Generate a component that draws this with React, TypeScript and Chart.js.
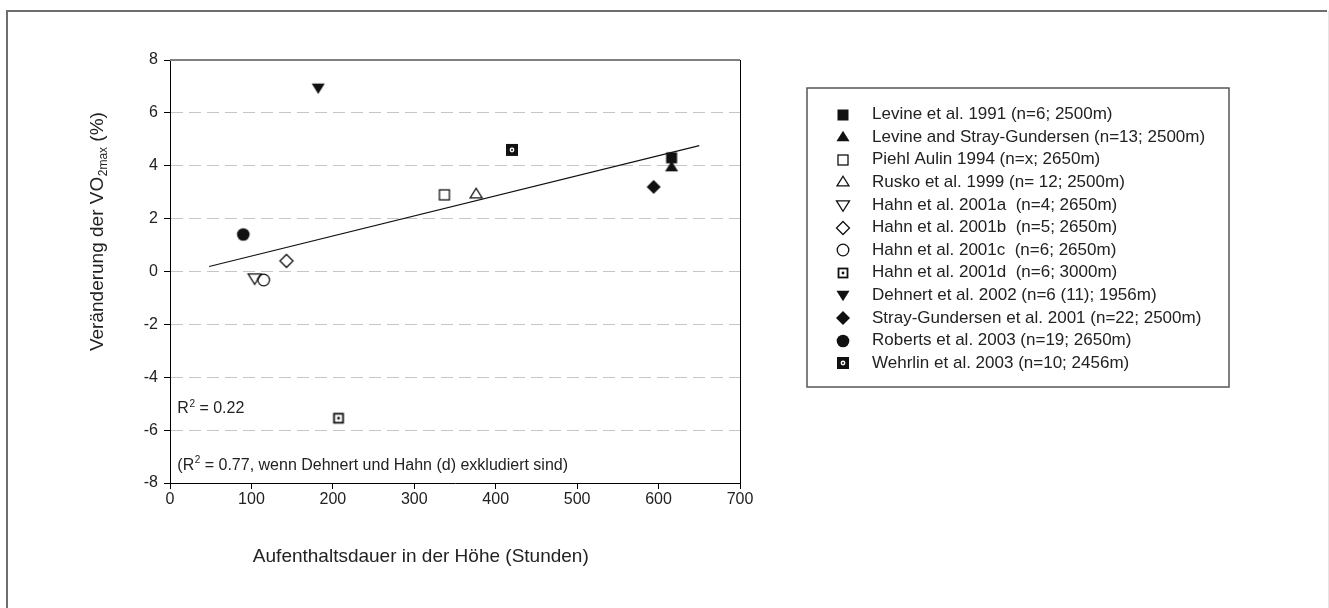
import React, { useEffect, useRef } from "react";
import { Chart, registerables } from "chart.js";

Chart.register(...registerables);

// ---------- data ----------
const studies = [
  "Levine et al. 1991 (n=6; 2500m)",
  "Levine and Stray-Gundersen (n=13; 2500m)",
  "Piehl Aulin 1994 (n=x; 2650m)",
  "Rusko et al. 1999 (n= 12; 2500m)",
  "Hahn et al. 2001a  (n=4; 2650m)",
  "Hahn et al. 2001b  (n=5; 2650m)",
  "Hahn et al. 2001c  (n=6; 2650m)",
  "Hahn et al. 2001d  (n=6; 3000m)",
  "Dehnert et al. 2002 (n=6 (11); 1956m)",
  "Stray-Gundersen et al. 2001 (n=22; 2500m)",
  "Roberts et al. 2003 (n=19; 2650m)",
  "Wehrlin et al. 2003 (n=10; 2456m)",
];
const hours = [616, 616, 337, 376, 104, 143, 115, 207, 182, 594, 90, 420];
const vo2Change = [4.3, 3.95, 2.9, 2.93, -0.25, 0.4, -0.32, -5.55, 6.95, 3.2, 1.4, 4.6];
const markerKinds = [
  "square",
  "triangle",
  "squareOpen",
  "triangleOpen",
  "triangleDownOpen",
  "diamondOpen",
  "circleOpen",
  "squareDot",
  "triangleDown",
  "diamond",
  "circle",
  "squareWhiteDot",
];
const trendHours = [48, 650];
const trendChange = [0.19, 4.76];
const xMin = 0;
const xMax = 700;
const xStep = 100;
const yMin = -8;
const yMax = 8;
const yStep = 2;
const xTitle = "Aufenthaltsdauer in der Höhe (Stunden)";
const yTitleParts = ["Veränderung der VO", "2max", " (%)"];
const r2Main = ["R", "2", " = 0.22"];
const r2Note = ["(R", "2", " = 0.77, wenn Dehnert und Hahn (d) exkludiert sind)"];
const r2MainPos = [9, -5.2];
const r2NotePos = [9, -7.35];

const FONT = "'Liberation Sans', Arial, sans-serif";
const TEXT = "#222";

const PLOT_LEFT = 170;
const PLOT_RIGHT = 740;
const PLOT_TOP = 60;
const PLOT_BOTTOM = 483;

function makeMarker(kind: string): HTMLCanvasElement {
  const s = 18;
  const c = document.createElement("canvas");
  c.width = s;
  c.height = s;
  const g = c.getContext("2d")!;
  const m = s / 2;
  g.fillStyle = "#111";
  g.strokeStyle = "#111";
  g.lineWidth = 1.3;
  const tri = (r: number, down: boolean) => {
    g.beginPath();
    const h = r * 1.6;
    if (!down) {
      g.moveTo(m, m - h * 0.6);
      g.lineTo(m + r, m + h * 0.4);
      g.lineTo(m - r, m + h * 0.4);
    } else {
      g.moveTo(m, m + h * 0.6);
      g.lineTo(m + r, m - h * 0.4);
      g.lineTo(m - r, m - h * 0.4);
    }
    g.closePath();
  };
  switch (kind) {
    case "square":
      g.fillRect(m - 5.5, m - 5.5, 11, 11);
      break;
    case "squareOpen":
      g.strokeRect(m - 5, m - 5, 10, 10);
      break;
    case "triangle":
      tri(6.5, false);
      g.fill();
      break;
    case "triangleOpen":
      tri(6, false);
      g.stroke();
      break;
    case "triangleDown":
      tri(6.5, true);
      g.fill();
      break;
    case "triangleDownOpen":
      tri(6.5, true);
      g.stroke();
      break;
    case "diamond":
      g.beginPath();
      g.moveTo(m, m - 7);
      g.lineTo(m + 7, m);
      g.lineTo(m, m + 7);
      g.lineTo(m - 7, m);
      g.closePath();
      g.fill();
      break;
    case "diamondOpen":
      g.beginPath();
      g.moveTo(m, m - 6.5);
      g.lineTo(m + 6.5, m);
      g.lineTo(m, m + 6.5);
      g.lineTo(m - 6.5, m);
      g.closePath();
      g.stroke();
      break;
    case "circle":
      g.beginPath();
      g.arc(m, m, 6.3, 0, Math.PI * 2);
      g.fill();
      break;
    case "circleOpen":
      g.beginPath();
      g.arc(m, m, 5.8, 0, Math.PI * 2);
      g.stroke();
      break;
    case "squareDot":
      g.lineWidth = 1.8;
      g.strokeRect(m - 4.5, m - 4.5, 9, 9);
      g.beginPath();
      g.arc(m, m, 1.4, 0, Math.PI * 2);
      g.fill();
      break;
    case "squareWhiteDot":
      g.fillRect(m - 6, m - 6, 12, 12);
      g.fillStyle = "#fff";
      g.beginPath();
      g.arc(m, m, 2.4, 0, Math.PI * 2);
      g.fill();
      g.fillStyle = "#111";
      g.beginPath();
      g.arc(m, m, 1, 0, Math.PI * 2);
      g.fill();
      break;
  }
  return c;
}

function drawSup(
  ctx: CanvasRenderingContext2D,
  parts: string[],
  x: number,
  y: number,
  size: number,
  subscript: boolean
) {
  ctx.textBaseline = "middle";
  ctx.textAlign = "left";
  ctx.font = `${size}px ${FONT}`;
  ctx.fillText(parts[0], x, y);
  let cx = x + ctx.measureText(parts[0]).width;
  const small = Math.round(size * 0.62);
  ctx.font = `${small}px ${FONT}`;
  ctx.fillText(parts[1], cx + 0.5, subscript ? y + size * 0.3 : y - size * 0.32);
  cx += ctx.measureText(parts[1]).width + 0.5;
  ctx.font = `${size}px ${FONT}`;
  ctx.fillText(parts[2], cx, y);
}

export default function App() {
  const ref = useRef<HTMLCanvasElement | null>(null);

  useEffect(() => {
    if (!ref.current) return;
    const images = markerKinds.map(makeMarker);

    const frame = {
      id: "frame",
      beforeDraw(chart: any) {
        const c = chart.ctx;
        c.save();
        c.fillStyle = "#fff";
        c.fillRect(0, 0, chart.width, chart.height);
        c.restore();
      },
      afterDraw(chart: any) {
        const c: CanvasRenderingContext2D = chart.ctx;
        const a = chart.chartArea;
        const xs = chart.scales.x;
        const ys = chart.scales.y;
        c.save();
        // outer frame
        c.strokeStyle = "#6e6e6e";
        c.lineWidth = 2;
        c.beginPath();
        c.moveTo(7, 640);
        c.lineTo(7, 11);
        c.lineTo(1327, 11);
        c.stroke();
        c.strokeStyle = "#e4e4e4";
        c.lineWidth = 1;
        c.beginPath();
        c.moveTo(1328.5, 11);
        c.lineTo(1328.5, 640);
        c.stroke();
        // top and right plot borders
        c.strokeStyle = "#808080";
        c.lineWidth = 2;
        c.beginPath();
        c.moveTo(a.left, a.top);
        c.lineTo(a.right, a.top);
        c.stroke();
        c.strokeStyle = "#000";
        c.lineWidth = 1;
        c.beginPath();
        c.moveTo(Math.round(a.right) + 0.5, a.top);
        c.lineTo(Math.round(a.right) + 0.5, a.bottom);
        c.stroke();
        // axis titles
        c.fillStyle = TEXT;
        c.font = `19px ${FONT}`;
        c.textAlign = "center";
        c.textBaseline = "middle";
        c.fillText(xTitle, a.left + (a.right - a.left) * 0.44, 557);
        c.save();
        c.translate(98, ys.getPixelForValue(1.5));
        c.rotate(-Math.PI / 2);
        c.font = `19px ${FONT}`;
        const w0 = c.measureText(yTitleParts[0]).width;
        const w2 = c.measureText(yTitleParts[2]).width;
        c.font = `12px ${FONT}`;
        const w1 = c.measureText(yTitleParts[1]).width;
        drawSup(c, yTitleParts, -(w0 + w1 + w2) / 2, 0, 19, true);
        c.restore();
        // R2 annotations
        c.fillStyle = TEXT;
        drawSup(c, r2Main, xs.getPixelForValue(r2MainPos[0]), ys.getPixelForValue(r2MainPos[1]), 16, false);
        drawSup(c, r2Note, xs.getPixelForValue(r2NotePos[0]), ys.getPixelForValue(r2NotePos[1]), 16, false);
        // legend box
        const lx = 807, ly = 88, lw = 422, lh = 299;
        c.strokeStyle = "#555";
        c.lineWidth = 1.5;
        c.strokeRect(lx, ly, lw, lh);
        c.font = `17px ${FONT}`;
        c.textAlign = "left";
        c.textBaseline = "middle";
        c.fillStyle = TEXT;
        studies.forEach((name, i) => {
          const yy = 114.5 + i * 22.6;
          const img = images[i];
          c.drawImage(img, 843 - img.width / 2, Math.round(yy) - img.height / 2);
          c.fillText(name, 872, yy);
        });
        c.restore();
      },
    };

    const pointDatasets = studies.map((name, i) => ({
      type: "scatter" as const,
      label: name,
      data: [{ x: hours[i], y: vo2Change[i] }],
      pointStyle: images[i],
      pointRadius: 7,
      order: 1,
    }));

    const chart = new Chart(ref.current, {
      type: "scatter",
      data: {
        datasets: [
          {
            type: "line" as const,
            label: "trend",
            data: trendHours.map((h, i) => ({ x: h, y: trendChange[i] })),
            borderColor: "#111",
            borderWidth: 1.2,
            pointRadius: 0,
            fill: false,
            order: 2,
          } as any,
          ...pointDatasets,
        ],
      },
      options: {
        animation: false,
        responsive: false,
        devicePixelRatio: 1,
        layout: { padding: { top: PLOT_TOP, right: 1329 - PLOT_RIGHT, bottom: 0, left: 0 } },
        plugins: {
          legend: { display: false },
          tooltip: { enabled: false },
          title: { display: false },
        },
        scales: {
          x: {
            type: "linear",
            min: xMin,
            max: xMax,
            afterFit: (s: any) => {
              s.height = 608 - PLOT_BOTTOM;
            },
            ticks: {
              stepSize: xStep,
              color: TEXT,
              font: { family: FONT, size: 16 },
              padding: 1,
            },
            grid: {
              drawOnChartArea: false,
              drawTicks: true,
              tickLength: 6,
              tickColor: "#000",
            },
            border: { display: true, color: "#000", width: 1 },
          },
          y: {
            type: "linear",
            min: yMin,
            max: yMax,
            afterFit: (s: any) => {
              s.width = PLOT_LEFT;
            },
            ticks: {
              stepSize: yStep,
              color: TEXT,
              font: { family: FONT, size: 16 },
              padding: 6,
            },
            grid: {
              drawOnChartArea: true,
              drawTicks: true,
              tickLength: 6,
              tickColor: "#000",
              color: (ctx: any) =>
                ctx.tick && (ctx.tick.value === yMax || ctx.tick.value === yMin)
                  ? "rgba(0,0,0,0)"
                  : "#c6c6c6",
              lineWidth: 1,
            },
            border: { display: true, color: "#000", width: 1, dash: [12, 6] },
          },
        },
      } as any,
      plugins: [frame],
    });

    return () => chart.destroy();
  }, []);

  return (
    <div style={{ position: "fixed", left: 0, top: 0, width: 1329, height: 608, background: "#fff" }}>
      <canvas ref={ref} width={1329} height={608} style={{ display: "block", width: 1329, height: 608 }} />
    </div>
  );
}
